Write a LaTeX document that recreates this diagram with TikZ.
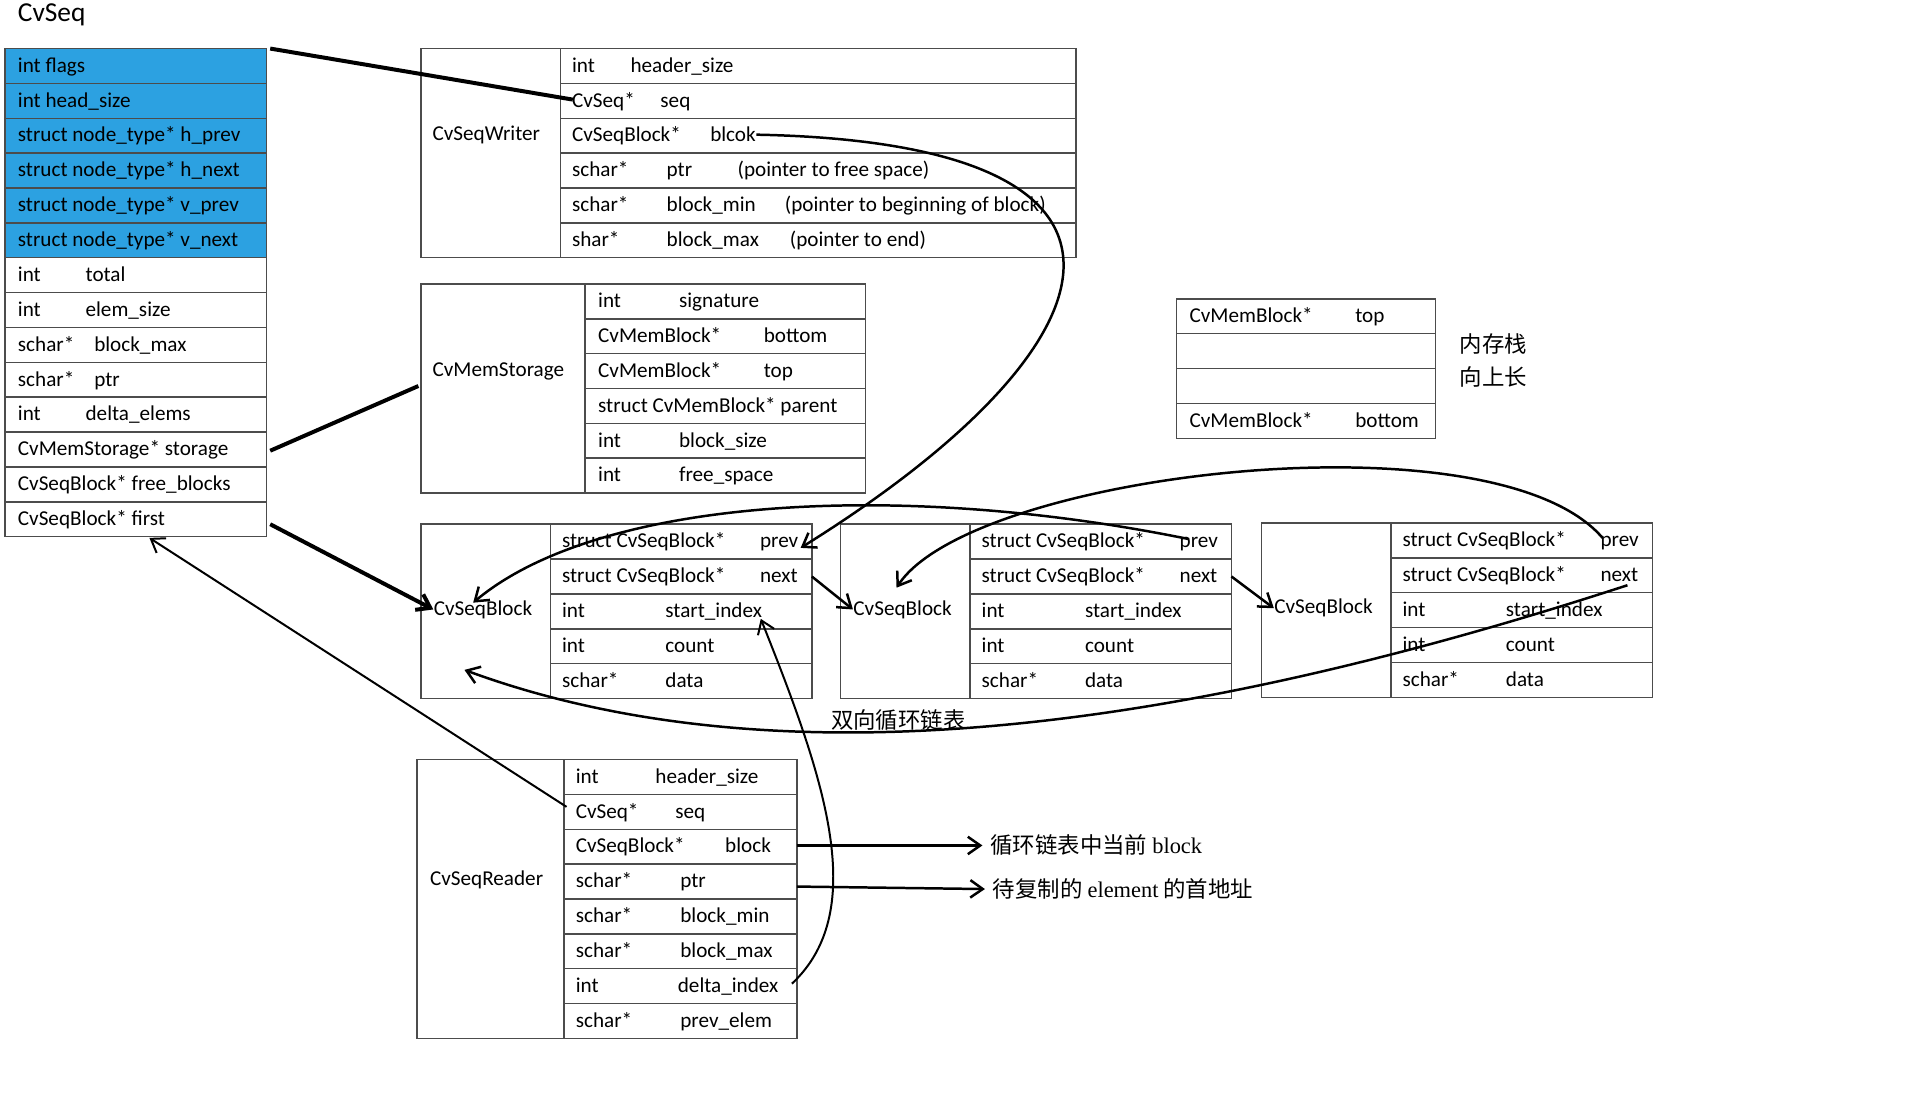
\documentclass[tikz,border=0pt]{standalone}
\usepackage{fontspec}
\setmainfont{Carlito}
\newfontfamily\cjk{Noto Sans CJK SC}
\newfontfamily\lser{Liberation Serif}
\usetikzlibrary{arrows.meta}
\tikzset{
 t/.style={anchor=base west,inner sep=0pt,font=\fontsize{8.5}{10}\selectfont},
 box/.style={draw=black!70,line width=0.6pt},
 arr/.style={-{Straight Barb[length=5pt,width=7pt]},line width=1pt},
 thk/.style={line width=1.6pt},
 cn/.style={anchor=west,inner sep=0pt,font=\fontsize{9}{10}\selectfont}
}
\newcommand{\tx}[4]{\node[t] (#1) at (#2,#3) {#4};}
\begin{document}
\begin{tikzpicture}[x=0.5pt,y=-0.5pt]
\useasboundingbox (0,0) rectangle (1550,887);
\node[anchor=west,inner sep=0pt,font=\fontsize{11}{12}\selectfont] (title) at (14,12) {CvSeq};
% left table
\fill[cyan!80!blue!85!white] (4,39) rectangle (214,207);
\foreach \i in {0,...,13} \draw[box] (4,39+28*\i) rectangle (214,67+28*\i);
\tx{l1}{14}{58}{int flags}
\tx{l2}{14}{86}{int head\_size}
\tx{l3}{14}{114}{struct node\_type* h\_prev}
\tx{l4}{14}{142}{struct node\_type* h\_next}
\tx{l5}{14}{170}{struct node\_type* v\_prev}
\tx{l6}{14}{198}{struct node\_type* v\_next}
\tx{l7}{14}{226}{int\hspace{18pt}total}
\tx{l8}{14}{254}{int\hspace{18pt}elem\_size}
\tx{l9}{14}{282}{schar*\hspace{8pt}block\_max}
\tx{l10}{14}{310}{schar*\hspace{8pt}ptr}
\tx{l11}{14}{338}{int\hspace{18pt}delta\_elems}
\tx{l12}{14}{366}{CvMemStorage* storage}
\tx{l13}{14}{394}{CvSeqBlock* free\_blocks}
\tx{l14}{14}{422}{CvSeqBlock* first}
% writer
\draw[box] (338,39) rectangle (864,207); \draw[box] (450,39)--(450,207);
\foreach \i in {1,...,5} \draw[box] (450,39+28*\i)--(864,39+28*\i);
\tx{wl}{347}{113}{CvSeqWriter}
\tx{w1a}{459}{58}{int}\tx{w1b}{506}{58}{header\_size}
\tx{w2a}{459}{86}{CvSeq*}\tx{w2b}{530}{86}{seq}
\tx{w3a}{459}{114}{CvSeqBlock*}\tx{w3b}{570}{114}{blcok}
\tx{w4a}{459}{142}{schar*}\tx{w4b}{535}{142}{ptr}\tx{w4c}{592}{142}{(pointer to free space)}
\tx{w5a}{459}{170}{schar*}\tx{w5b}{535}{170}{block\_min}\tx{w5c}{630}{170}{(pointer to beginning of block)}
\tx{w6a}{459}{198}{shar*}\tx{w6b}{535}{198}{block\_max}\tx{w6c}{634}{198}{(pointer to end)}
% memstorage
\draw[box] (338,228) rectangle (695,396); \draw[box] (470,228)--(470,396);
\foreach \i in {1,...,5} \draw[box] (470,228+28*\i)--(695,228+28*\i);
\tx{ml}{347}{302}{CvMemStorage}
\tx{m1a}{480}{247}{int}\tx{m1b}{545}{247}{signature}
\tx{m2a}{480}{275}{CvMemBlock*}\tx{m2b}{613}{275}{bottom}
\tx{m3a}{480}{303}{CvMemBlock*}\tx{m3b}{613}{303}{top}
\tx{m4a}{480}{331}{struct CvMemBlock* parent}
\tx{m5a}{480}{359}{int}\tx{m5b}{545}{359}{block\_size}
\tx{m6a}{480}{387}{int}\tx{m6b}{545}{387}{free\_space}
% memblock
\foreach \i in {0,...,3} \draw[box] (945,240+28*\i) rectangle (1153,268+28*\i);
\tx{b1a}{955}{259}{CvMemBlock*}\tx{b1b}{1088}{259}{top}
\tx{b4a}{955}{343}{CvMemBlock*}\tx{b4b}{1088}{343}{bottom}
\node[cn] (st1) at (1172,276) {\cjk 内存栈};
\node[cn] (st2) at (1172,303) {\cjk 向上长};
% seq blocks
\foreach \X/\Y/\n in {338/421/A,675/421/B,1013/420/C}{
 \draw[box] (\X,\Y) rectangle (\X+314,\Y+140); \draw[box] (\X+104,\Y)--(\X+104,\Y+140);
 \foreach \i in {1,...,4} \draw[box] (\X+104,\Y+28*\i)--(\X+314,\Y+28*\i);
 \node[t] (\n l) at (\X+10,\Y+73) {CvSeqBlock};
 \node[t] (\n1) at (\X+113,\Y+19) {struct CvSeqBlock*};
 \node[t] (\n1b) at (\X+272,\Y+19) {prev};
 \node[t] (\n2) at (\X+113,\Y+47) {struct CvSeqBlock*};
 \node[t] (\n2b) at (\X+272,\Y+47) {next};
 \node[t] (\n3) at (\X+113,\Y+75) {int};
 \node[t] (\n3b) at (\X+196,\Y+75) {start\_index};
 \node[t] (\n4) at (\X+113,\Y+103) {int};
 \node[t] (\n4b) at (\X+196,\Y+103) {count};
 \node[t] (\n5) at (\X+113,\Y+131) {schar*};
 \node[t] (\n5b) at (\X+196,\Y+131) {data};
}
\node[cn] (ring) at (667,578) {\cjk 双向循环链表};
% reader
\draw[box] (335,610) rectangle (640,834); \draw[box] (453,610)--(453,834);
\foreach \i in {1,...,7} \draw[box] (453,610+28*\i)--(640,610+28*\i);
\tx{rl}{345}{711}{CvSeqReader}
\tx{r1a}{462}{629}{int}\tx{r1b}{526}{629}{header\_size}
\tx{r2a}{462}{657}{CvSeq*}\tx{r2b}{542}{657}{seq}
\tx{r3a}{462}{685}{CvSeqBlock*}\tx{r3b}{582}{685}{block}
\tx{r4a}{462}{713}{schar*}\tx{r4b}{546}{713}{ptr}
\tx{r5a}{462}{741}{schar*}\tx{r5b}{546}{741}{block\_min}
\tx{r6a}{462}{769}{schar*}\tx{r6b}{546}{769}{block\_max}
\tx{r7a}{462}{797}{int}\tx{r7b}{544}{797}{delta\_index}
\tx{r8a}{462}{825}{schar*}\tx{r8b}{546}{825}{prev\_elem}
\node[cn] (c1) at (795,679) {\cjk 循环链表中当前 {\lser block}};
\node[cn] (c2) at (797,714) {\cjk 待复制的 {\lser element} 的首地址};
% connectors
\coordinate (p1) at (217,39); \coordinate (p2) at (460,80);
\draw[thk] (p1)--(p2);
\coordinate (p3) at (217,362); \coordinate (p4) at (336,310);
\draw[thk] (p3)--(p4);
\coordinate (p5) at (217,421);
\draw[arr,line width=1.6pt] (p5)--(Al.west);
\draw[arr] (652,463)--(Bl.west);
\draw[arr] (989,463)--(Cl.west);
\draw[arr] (w3b.east) .. controls (960,115) and (900,280) .. (643,440);
\draw[arr] (955,433) .. controls (720,385) and (480,400) .. (380,484);
\draw[arr] (1287,432) .. controls (1200,330) and (780,380) .. (720,472);
\draw[arr] (1307,470) .. controls (1000,570) and (650,640) .. (373,538);
\draw[arr,line width=0.8pt] (455,648)--(120,432);
\draw[arr,line width=0.8pt] (636,790) .. controls (700,730) and (660,620) .. (611,497);
\draw[arr] (640,679)--([xshift=-3pt]c1.west);
\draw[arr] (640,712)--([xshift=-3pt]c2.west);
\end{tikzpicture}
\end{document}
